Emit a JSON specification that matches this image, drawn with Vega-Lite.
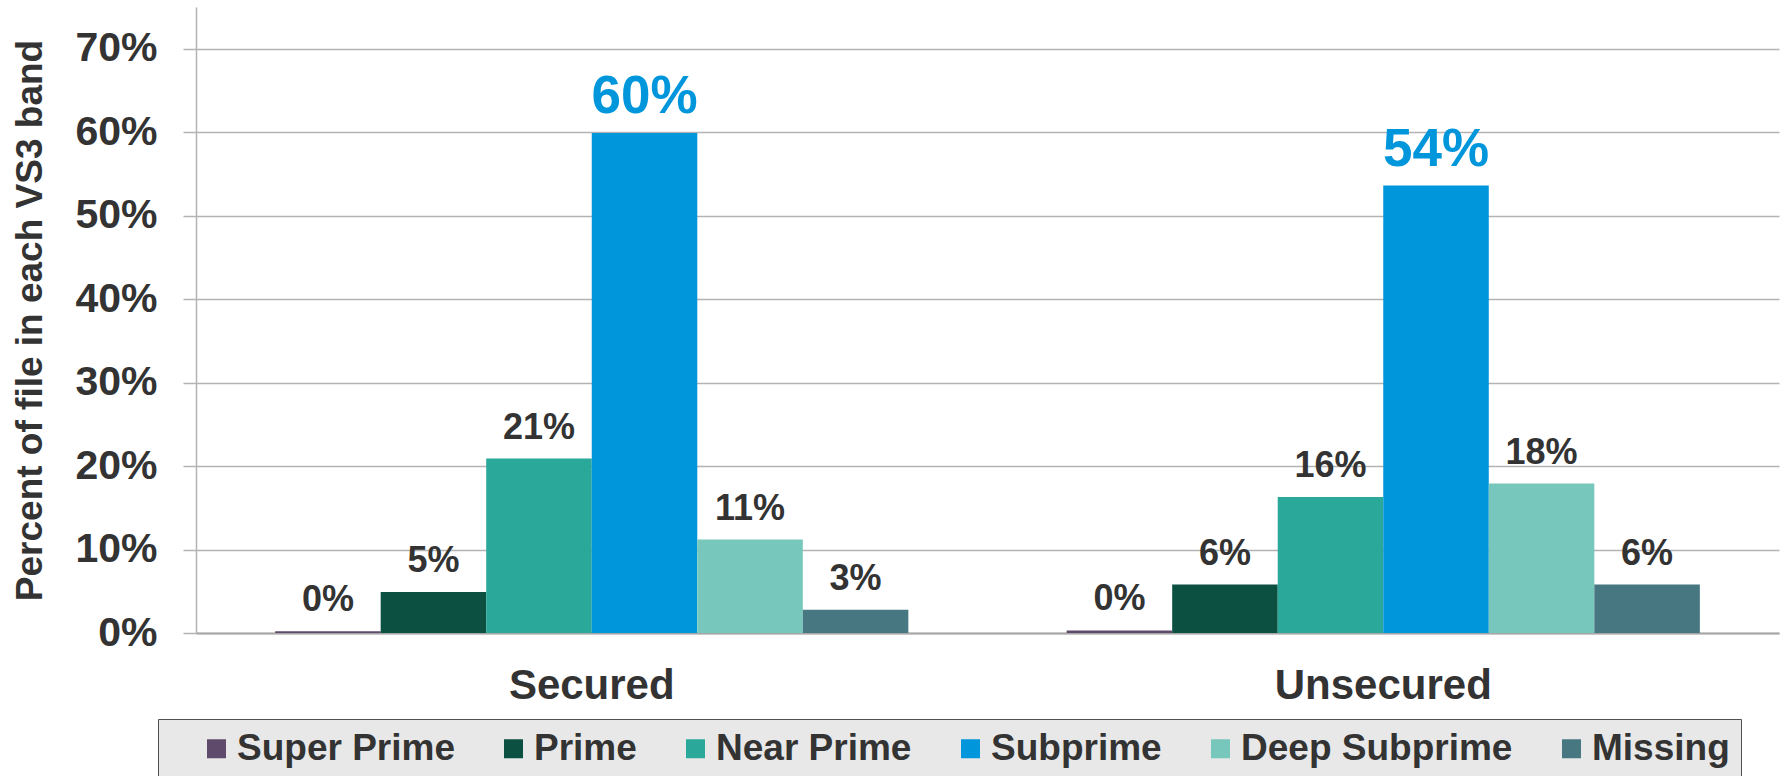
{
  "$schema": "https://vega.github.io/schema/vega-lite/v6.json",
  "width": 1583,
  "height": 626,
  "autosize": {"type": "none"},
  "padding": {"left": 196, "top": 7, "right": 2, "bottom": 143},
  "background": "white",
  "config": {
    "font": "Liberation Sans",
    "view": {"stroke": null}
  },
  "data": {
    "values": [
      {"loan": "Secured", "band": "Super Prime", "pct": 0.002},
      {"loan": "Secured", "band": "Prime", "pct": 0.049},
      {"loan": "Secured", "band": "Near Prime", "pct": 0.209},
      {"loan": "Secured", "band": "Subprime", "pct": 0.599},
      {"loan": "Secured", "band": "Deep Subprime", "pct": 0.112},
      {"loan": "Secured", "band": "Missing", "pct": 0.028},
      {"loan": "Unsecured", "band": "Super Prime", "pct": 0.003},
      {"loan": "Unsecured", "band": "Prime", "pct": 0.058},
      {"loan": "Unsecured", "band": "Near Prime", "pct": 0.163},
      {"loan": "Unsecured", "band": "Subprime", "pct": 0.536},
      {"loan": "Unsecured", "band": "Deep Subprime", "pct": 0.179},
      {"loan": "Unsecured", "band": "Missing", "pct": 0.058}
    ]
  },
  "encoding": {
    "x": {
      "field": "loan",
      "type": "nominal",
      "sort": ["Secured", "Unsecured"],
      "scale": {"paddingInner": 0.2, "paddingOuter": 0.1},
      "axis": {
        "title": null,
        "labelAngle": 0,
        "labelLimit": 0,
        "ticks": false,
        "tickSize": 0,
        "domainColor": "#a6a6a6",
        "domainWidth": 2,
        "labelFontSize": 42,
        "labelFontWeight": "bold",
        "labelColor": "#333333",
        "labelBaseline": "alphabetic",
        "labelPadding": 65
      }
    },
    "xOffset": {
      "field": "band",
      "type": "nominal",
      "sort": ["Super Prime", "Prime", "Near Prime", "Subprime", "Deep Subprime", "Missing"],
      "scale": {"paddingInner": 0, "paddingOuter": 0}
    },
    "y": {
      "field": "pct",
      "type": "quantitative",
      "scale": {"domain": [0, 0.75], "nice": false},
      "axis": {
        "title": "Percent of file in each VS3 band",
        "format": ".0%",
        "values": [0, 0.1, 0.2, 0.3, 0.4, 0.5, 0.6, 0.7],
        "grid": true,
        "gridColor": "#b3b3b3",
        "gridWidth": 1.5,
        "domainColor": "#b3b3b3",
        "domainWidth": 1.5,
        "tickColor": "#b3b3b3",
        "tickSize": 13,
        "tickWidth": 1.5,
        "labelFontSize": 41,
        "labelFontWeight": "bold",
        "labelColor": "#333333",
        "labelPadding": 26,
        "titleFontSize": 37,
        "titleFontWeight": "bold",
        "titleColor": "#333333",
        "titleX": -155,
        "titleY": 313,
        "titleAngle": -90,
        "titleAlign": "center",
        "titleBaseline": "alphabetic"
      }
    }
  },
  "layer": [
    {
      "mark": {"type": "bar"},
      "encoding": {
        "color": {
          "field": "band",
          "type": "nominal",
          "sort": ["Super Prime", "Prime", "Near Prime", "Subprime", "Deep Subprime", "Missing"],
          "scale": {
            "domain": ["Super Prime", "Prime", "Near Prime", "Subprime", "Deep Subprime", "Missing"],
            "range": ["#604a6c", "#0b5040", "#2aa89a", "#0096db", "#77c7bd", "#477882"]
          },
          "legend": {
            "title": " ",
            "titleOrient": "left",
            "titleFontSize": 1,
            "titlePadding": 29,
            "orient": "none",
            "direction": "horizontal",
            "columns": 6,
            "legendX": -38,
            "legendY": 712,
            "padding": 11,
            "columnPadding": 40,
            "fillColor": "#e8e8e8",
            "strokeColor": "#505050",
            "symbolType": "square",
            "symbolSize": 361,
            "symbolStrokeWidth": 0,
            "symbolOpacity": 1,
            "labelFontSize": 37,
            "labelFontWeight": "bold",
            "labelColor": "#333333",
            "labelOffset": 2,
            "labelLimit": 500
          }
        }
      }
    },
    {
      "mark": {"type": "text", "baseline": "alphabetic", "align": "center", "dy": -20, "fontWeight": "bold"},
      "encoding": {
        "text": {"field": "pct", "type": "quantitative", "format": ".0%"},
        "color": {
          "condition": {"test": "datum.band === 'Subprime'", "value": "#0096db"},
          "value": "#333333"
        },
        "size": {
          "condition": {"test": "datum.band === 'Subprime'", "value": 53},
          "value": 36
        }
      }
    }
  ]
}
